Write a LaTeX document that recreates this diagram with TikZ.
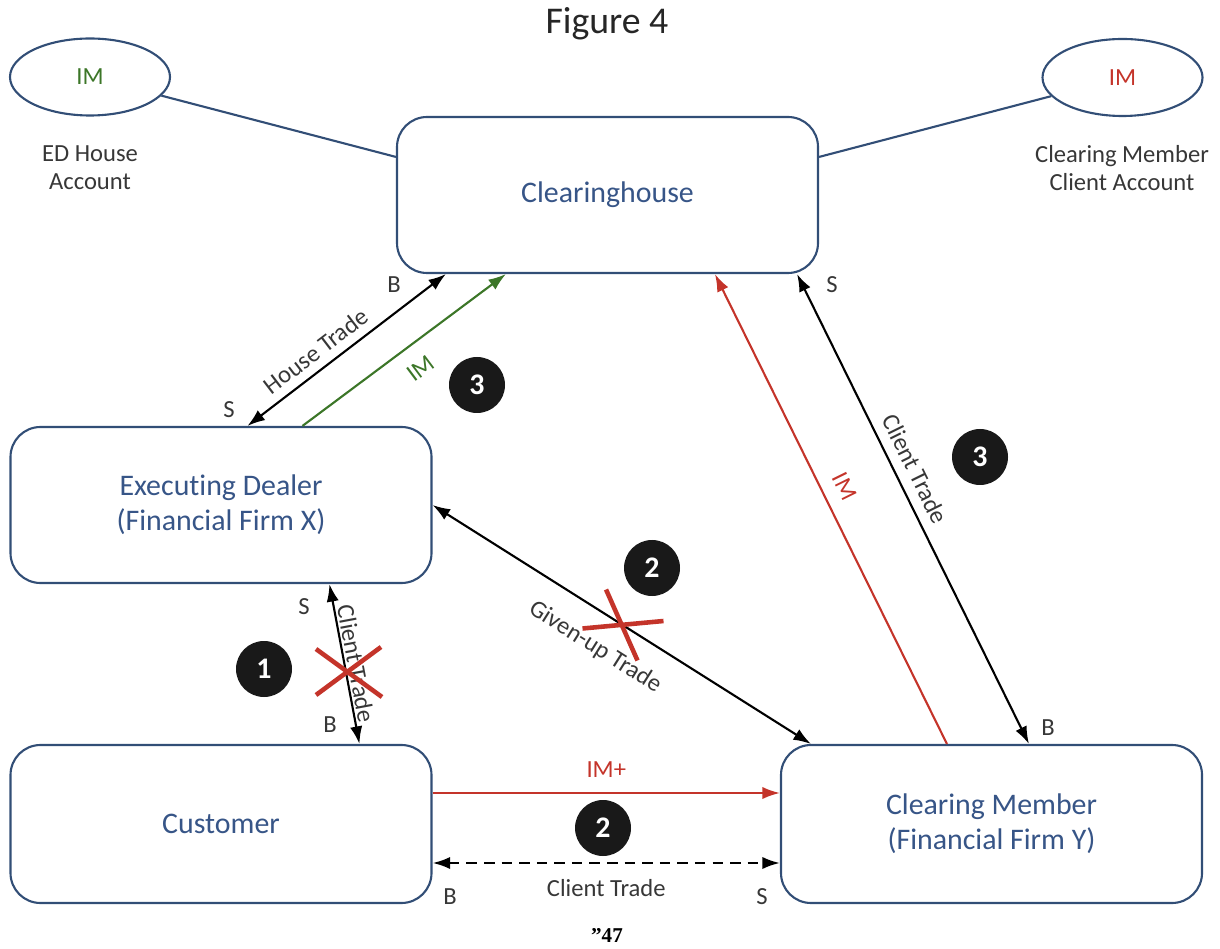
\documentclass[tikz,border=0pt]{standalone}
\usepackage{fontspec}
\setmainfont{Carlito}[Ligatures=NoCommon]
\newfontfamily\notefont{Liberation Serif}
\usetikzlibrary{shapes,arrows.meta,positioning}

\definecolor{boxblue}{RGB}{50,78,118}
\definecolor{textblue}{RGB}{55,85,135}
\definecolor{imred}{RGB}{196,52,42}
\definecolor{imgreen}{RGB}{60,118,40}
\definecolor{labelgray}{RGB}{55,55,55}

\tikzset{
	party/.style={draw=boxblue,line width=1.2pt,rounded corners=0.6cm,minimum width=8.42cm,minimum height=3.12cm,align=center,text=textblue,font=\fontsize{17}{20}\selectfont},
	acct/.style={ellipse,draw=boxblue,line width=1.2pt,minimum width=3.2cm,minimum height=1.54cm,font=\fontsize{14}{16}\selectfont},
	tag/.style={text=labelgray,font=\fontsize{14}{16}\selectfont,inner sep=1pt},
	badge/.style={circle,fill=black!90,text=white,minimum size=1.12cm,inner sep=0pt,font=\fontsize{17}{17}\selectfont\bfseries},
	trade/.style={draw=black,line width=1.2pt},
	crossmark/.style={draw=imred,line width=2.6pt},
}

\begin{document}
\begin{tikzpicture}[>={Latex[length=10pt,width=7pt]}]
	\useasboundingbox (0,0) rectangle (24.4,18.96);
	\node[font=\fontsize{21.5}{24}\selectfont,text=black!85]	(title)	at (12.14,18.48)	{Figure 4};
	\node[party]			(ch)	at (12.15,15.06)	{\raisebox{-2pt}{Clearinghouse}};
	\node[party]			(ed)	at (4.42,8.86)	{Executing Dealer\\(Financial Firm X)};
	\node[party,minimum height=3.16cm]	(cust)	at (4.42,2.48)	{Customer};
	\node[party,minimum height=3.16cm]	(cm)	at (19.83,2.48)	{Clearing Member\\(Financial Firm Y)};
	\node[acct,text=imgreen]	(lacc)	at (1.8,17.42)	{IM};
	\node[acct,text=imred]	(racc)	at (22.45,17.41)	{IM};
	\node[tag,align=center]	(lname)	at (1.8,15.6)	{ED House\\Account};
	\node[tag,align=center]	(rname)	at (22.44,15.6)	{Clearing Member\\Client Account};
	\draw[boxblue,line width=1.2pt] (lacc) -- ([yshift=-0.82cm]ch.north west);
	\draw[boxblue,line width=1.2pt] (racc) -- ([yshift=-0.82cm]ch.north east);

	\path[trade]
		([xshift=4.76cm]ed.north west)	edge [<->]	node[tag,sloped,above,pos=.4,inner sep=4.8pt] {House Trade}	([xshift=1cm]ch.south west)
		([xshift=5.86cm]ed.north west)	edge [->,imgreen]	node[tag,text=imgreen,sloped,below,pos=.51,inner sep=9pt] {IM}	([xshift=2.2cm]ch.south west)
		(ed.east)	edge [<->]	node[tag,sloped,below,pos=.477,inner sep=12.5pt] {Given-up Trade}	([xshift=0.62cm]cm.north west)
		([xshift=6.4cm]ed.south west)	edge [<->]	node[tag,sloped,above,pos=.51,inner sep=1pt] {Client Trade}	([xshift=7cm]cust.north west)
		([xshift=3.34cm]cm.north west)	edge [->,imred]	node[tag,text=imred,sloped,above,pos=.527,inner sep=7.7pt] {IM}	([xshift=6.38cm]ch.south west)
		([xshift=-0.44cm]ch.south east)	edge [<->]	node[tag,sloped,above,pos=.433,inner sep=5.8pt] {Client Trade}	([xshift=4.98cm]cm.north west)
		([yshift=0.62cm]cust.east)	edge [->,imred]	node[tag,text=imred,above,inner sep=8pt] {IM+}	([yshift=0.62cm]cm.west)
		([yshift=-0.78cm]cust.east)	edge [<->,dash pattern=on 6pt off 4pt,line width=1.4pt]	node[tag,below,inner sep=8.6pt] {Client Trade}	([yshift=-0.78cm]cm.west)
		;

	\node[tag]	(hs)	at (4.58,10.76)	{S};
	\node[tag]	(hb)	at (7.88,13.26)	{B};
	\node[tag]	(cs)	at (6.08,6.82)	{S};
	\node[tag]	(cb)	at (6.6,4.46)	{B};
	\node[tag]	(rs)	at (16.64,13.26)	{S};
	\node[tag]	(rb)	at (20.96,4.4)	{B};
	\node[tag]	(db)	at (9.0,1.02)	{B};
	\node[tag]	(ds)	at (15.24,1.02)	{S};

	\node[badge]	(n3a)	at (9.54,11.26)	{3};
	\node[badge]	(n2a)	at (13.04,7.6)	{2};
	\node[badge]	(n1)	at (5.28,5.58)	{1};
	\node[badge]	(n3b)	at (19.6,9.82)	{3};
	\node[badge]	(n2b)	at (12.06,2.4)	{2};

	\coordinate (x1) at (6.98,5.52);
	\coordinate (x2) at (12.44,6.46);
	\draw[crossmark] ([shift={(-0.66,0.46)}]x1) -- ([shift={(0.66,-0.5)}]x1);
	\draw[crossmark] ([shift={(-0.66,-0.46)}]x1) -- ([shift={(0.64,0.5)}]x1);
	\draw[crossmark] ([shift={(-0.79,-0.07)}]x2) -- ([shift={(0.83,0.08)}]x2);
	\draw[crossmark] ([shift={(-0.32,0.71)}]x2) -- ([shift={(0.31,-0.71)}]x2);

	\node[font=\notefont\fontsize{12}{14}\selectfont\bfseries]	(fn)	at (12.14,0.26)	{”47};
\end{tikzpicture}
\end{document}
